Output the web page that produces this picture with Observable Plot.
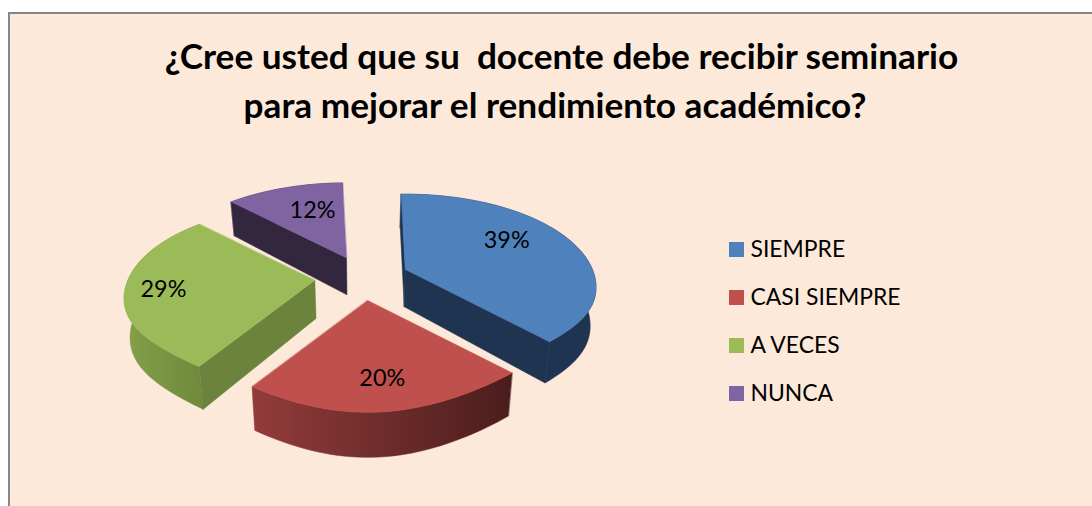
<!DOCTYPE html>
<html lang="es">
<head>
<meta charset="utf-8">
<script src="https://cdn.jsdelivr.net/npm/d3@7"></script>
<script src="https://cdn.jsdelivr.net/npm/@observablehq/plot@0.6"></script>
<style>
  html, body { margin: 0; padding: 0; background: #fff; overflow: hidden; }
  body { position: relative; width: 1092px; height: 506px; }
  #frame { position: absolute; left: 8px; top: 12px; width: 1084px; height: 494px;
           box-sizing: border-box; background: #fde9d9;
           border-top: 2px solid #868686; border-left: 2px solid #868686; }
  #title { position: absolute; left: 10px; top: 31px; width: 1103px; margin: 0; text-align: center;
           font: 700 35.2px/49px Lato, sans-serif; color: #000; white-space: pre; }
  #title span { position: relative; left: -6.5px; }
  #chart { position: absolute; left: 0; top: 135px; }
</style>
</head>
<body>
<div id="frame"></div>
<h1 id="title">¿Cree usted que su  docente debe recibir seminario
<span>para mejorar el rendimiento académico?</span></h1>
<div id="chart"></div>
<script>
const categories = ["SIEMPRE", "CASI SIEMPRE", "A VECES", "NUNCA"];
const percents = [39, 20, 29, 12];
const topColors = ["#4f81bd", "#c0504d", "#9bbb59", "#8064a2"];
const wallColors = ["#1e3450", "url(#redArc)", "url(#greenArc)", "#33273f"];
const edgeColors = ["#1e3450", "#4a1d1c", "#6b833d", "#33273f"];
const paintOrder = [3, 0, 2, 1];
const labelRadius = [0.67, 0.75, 0.80, 0.62];
const labelTurn = [-9, 0, 0, 4];

// Pie projection: a tilted disc seen in perspective, extruded downward
const rad = d => d * Math.PI / 180;
const cx = 362, cy = 277, burstX = 47, burstY = 23;
const rx = 187, ry = 89.8, persp = 0.1977, firstAngle = -1.5;
const nudgeX = [-1, 1, -1, 2.5], nudgeY = [0, 0, 0, 1.5];

let running = firstAngle;
const slices = percents.map((p, i) => {
  const a0 = running, a1 = running + p * 3.6;
  running = a1;
  const mid = (a0 + a1) / 2;
  return {i, a0, a1, mid,
    ox: cx + burstX * Math.sin(rad(mid)) + nudgeX[i],
    oy: cy - burstY * Math.cos(rad(mid)) + nudgeY[i]};
});

function topPoint(s, angle, r) {
  const X = r * Math.sin(rad(angle)), Y = r * Math.cos(rad(angle));
  const k = 1 / (1 + persp * Y);
  // the near half of the rim is flatter on the diagonals than a pure ellipse
  const flat = Y < 0 ? 1 - 0.09 * Math.sin(rad(2 * angle)) ** 2 : 1;
  return {x: s.ox + rx * X * k, y: s.oy - ry * Y * flat * k};
}
function lower(p) {
  return {x: cx + (p.x - cx) * 0.975, y: p.y + 37 + 0.052 * (p.y - 257)};
}
function arc(s) {
  const n = Math.ceil((s.a1 - s.a0) / 2), pts = [];
  for (let j = 0; j <= n; ++j) pts.push(topPoint(s, s.a0 + (s.a1 - s.a0) * j / n, 1));
  return pts;
}
const wall = pts => [...pts, ...pts.map(lower).reverse()];
const face = (pts, fill) => Plot.line(pts, {x: "x", y: "y", fill, stroke: fill, strokeWidth: 0.5,
  curve: "linear-closed"});

const pieMarks = paintOrder.flatMap(i => {
  const s = slices[i];
  const apex = topPoint(s, 0, 0);
  const rim = arc(s);
  const first = rim[0], last = rim[rim.length - 1];
  const marks = [face(wall(rim), wallColors[i])];
  // a cut side shows only when it faces the viewer
  if (Math.sin(rad(s.a0)) < 0) marks.push(face(wall([first, apex]), edgeColors[i]));
  if (Math.sin(rad(s.a1)) > 0) marks.push(face(wall([apex, last]), edgeColors[i]));
  marks.push(face([apex, ...rim], topColors[i]));
  return marks;
});

const labels = slices.map(s => {
  const p = topPoint(s, s.mid + labelTurn[s.i], labelRadius[s.i]);
  return {x: p.x, y: p.y, text: percents[s.i] + "%"};
});

const legendRows = categories.map((name, i) => ({name, i, y: 249.5 + 48 * i}));

const gradients = () => {
  const defs = d3.create("svg:defs");
  const add = (id, from, to) => {
    const g = defs.append("linearGradient").attr("id", id);
    g.append("stop").attr("offset", "0%").attr("stop-color", from);
    g.append("stop").attr("offset", "100%").attr("stop-color", to);
  };
  add("redArc", "#923c3a", "#4a1d1c");
  add("greenArc", "#83a04a", "#70893c");
  return defs.node();
};

const chart = Plot.plot({
  width: 1092, height: 371,
  margin: 0,
  style: {background: "transparent", overflow: "visible"},
  x: {domain: [0, 1092], range: [0, 1092], axis: null},
  y: {domain: [135, 506], range: [0, 371], axis: null},
  marks: [
    gradients,
    ...pieMarks,
    Plot.text(labels, {x: "x", y: "y", text: "text", fill: "#000",
      fontFamily: "Lato, sans-serif", fontSize: 23.4}),
    Plot.rect(legendRows, {x1: 729, x2: 744, y1: d => d.y - 7.5, y2: d => d.y + 7.5,
      fill: d => topColors[d.i], inset: 0}),
    Plot.text(legendRows, {x: 750, y: "y", text: "name", textAnchor: "start", fill: "#000",
      fontFamily: "Lato, sans-serif", fontSize: 22.9})
  ]
});
document.getElementById("chart").append(chart);
</script>
</body>
</html>
